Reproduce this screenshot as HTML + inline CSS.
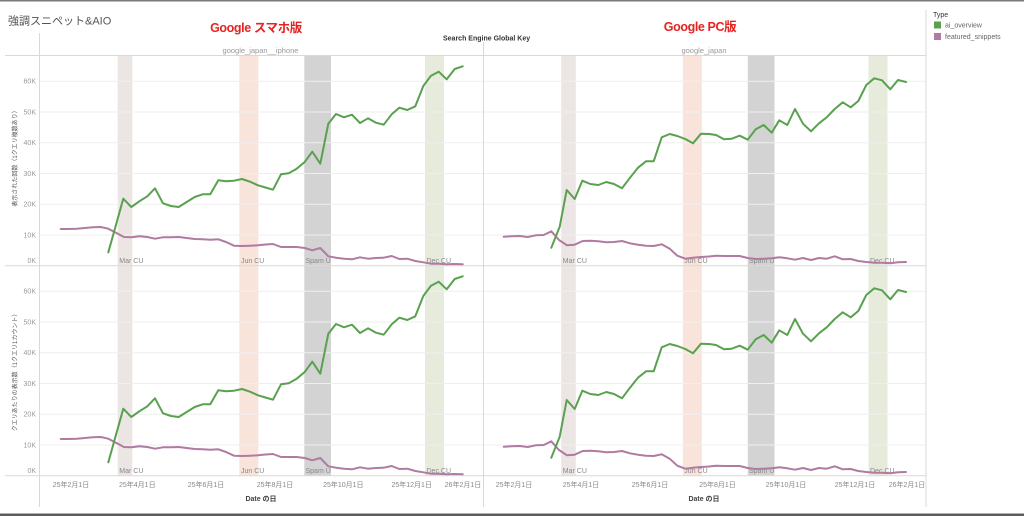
<!DOCTYPE html>
<html><head><meta charset="utf-8"><style>
html,body{margin:0;padding:0;background:#fff;}
svg{display:block;font-family:"Liberation Sans","Noto Sans CJK JP",sans-serif;}
</style></head><body>
<svg width="1024" height="516" viewBox="0 0 1024 516" xmlns="http://www.w3.org/2000/svg">
<rect x="0" y="0" width="1024" height="516" fill="#fff"/>
<rect x="0" y="0" width="1024" height="1.5" fill="#7a7a7a"/>
<rect x="0" y="513.5" width="1024" height="2.5" fill="#5c5c5c"/>

<!-- titles -->
<text x="8" y="24.5" font-size="11" fill="#555">強調スニペット&amp;AIO</text>
<text x="256" y="32" font-size="12.5" font-weight="bold" fill="#e52421" text-anchor="middle" letter-spacing="-0.4">Google スマホ版</text>
<text x="700" y="31" font-size="12.5" font-weight="bold" fill="#e52421" text-anchor="middle" letter-spacing="-0.4">Google PC版</text>
<text x="443" y="40.5" font-size="7" font-weight="bold" fill="#333">Search Engine Global Key</text>
<text x="260.5" y="53" font-size="7.5" fill="#999" text-anchor="middle">google_japan__iphone</text>
<text x="704" y="53" font-size="7.5" fill="#999" text-anchor="middle">google_japan</text>

<!-- legend -->
<text x="933" y="17" font-size="7" fill="#333">Type</text>
<rect x="934" y="21.5" width="7" height="7" fill="#59a14f"/>
<text x="945" y="27.5" font-size="7" fill="#666">ai_overview</text>
<rect x="934" y="33" width="7" height="7" fill="#b07aa1"/>
<text x="945" y="39" font-size="7" fill="#666">featured_snippets</text>

<!-- bands -->
<g id="bands">
<rect x="117.7" y="55.7" width="14.6" height="210" fill="#ebe6e3"/>
<rect x="239.3" y="55.7" width="19" height="210" fill="#f8e4db"/>
<rect x="304.3" y="55.7" width="26.7" height="210" fill="#d3d3d3"/>
<rect x="425" y="55.7" width="19" height="210" fill="#e6ebdc"/>
<rect x="561.2" y="55.7" width="14.6" height="210" fill="#ebe6e3"/>
<rect x="682.8" y="55.7" width="19" height="210" fill="#f8e4db"/>
<rect x="747.8" y="55.7" width="26.7" height="210" fill="#d3d3d3"/>
<rect x="868.5" y="55.7" width="19" height="210" fill="#e6ebdc"/>
</g>
<use href="#bands" transform="translate(0,210)"/>

<!-- gridlines -->
<g id="grid" stroke="#efefef" stroke-width="1">
<line x1="40" x2="926" y1="81.2" y2="81.2"/>
<line x1="40" x2="926" y1="112" y2="112"/>
<line x1="40" x2="926" y1="142.7" y2="142.7"/>
<line x1="40" x2="926" y1="173.5" y2="173.5"/>
<line x1="40" x2="926" y1="204.2" y2="204.2"/>
<line x1="40" x2="926" y1="235" y2="235"/>
</g>
<use href="#grid" transform="translate(0,210)"/>

<!-- frame lines -->
<g stroke="#d9d9d9" stroke-width="1">
<line x1="5" x2="926" y1="55.5" y2="55.5"/>
<line x1="5" x2="926" y1="265.7" y2="265.7"/>
<line x1="5" x2="926" y1="475.7" y2="475.7"/>
<line x1="39.5" x2="39.5" y1="33" y2="507"/>
<line x1="483.5" x2="483.5" y1="42" y2="507"/>
<line x1="926" x2="926" y1="10" y2="507"/>
</g>

<!-- y tick labels -->
<g id="yt" font-size="7" fill="#999" text-anchor="end">
<text x="36" y="83.7">60K</text>
<text x="36" y="114.5">50K</text>
<text x="36" y="145.2">40K</text>
<text x="36" y="176">30K</text>
<text x="36" y="206.7">20K</text>
<text x="36" y="237.5">10K</text>
<text x="36" y="263.2">0K</text>
</g>
<use href="#yt" transform="translate(0,210)"/>

<!-- y axis titles -->
<text transform="translate(17,157) rotate(-90)" font-size="6" fill="#555" text-anchor="middle">表示された回数（1クエリ複数あり）</text>
<text transform="translate(17,371) rotate(-90)" font-size="6" fill="#555" text-anchor="middle">クエリあたりの表示数（1クエリ1カウント）</text>

<!-- band labels -->
<g id="bl" font-size="7" fill="#888">
<text x="119.3" y="263">Mar CU</text>
<text x="241" y="263">Jun CU</text>
<text x="305.5" y="263">Spam U</text>
<text x="426.5" y="263">Dec CU</text>
<text x="562.8" y="263">Mar CU</text>
<text x="684.3" y="263">Jun CU</text>
<text x="749" y="263">Spam U</text>
<text x="870" y="263">Dec CU</text>
</g>
<use href="#bl" transform="translate(0,210)"/>

<!-- series -->
<g id="series" fill="none" stroke-width="2" stroke-linejoin="round" stroke-linecap="round">
<polyline stroke="#b07aa1" points="60.7,229 68.3,229 76.7,228.7 85,228 92.7,227.3 100.7,227 108.3,228.7 116,232.7 124,237 131.7,237.3 139.3,236.3 147.3,237 155,238.7 163,237.3 171,237.3 178.7,237 186.7,238 194.7,239 202.7,239.3 210.3,239.7 218.3,239.3 226,242 234,245.7 242,246 250,245.7 258,245.3 265.5,244.5 273,244 281,247 288.7,247 296.7,247 304.7,248 312.3,250.3 320.3,248 328.3,256.3 336,257.7 344,258.7 352,259.3 360,257.3 368,258.7 376,258 383.7,257.7 391.7,256 399.3,259 407.3,258.7 415.3,261 423.3,262.3 431,263.7 438.7,263.7 446.7,264.3 454.7,264 462.7,264.3"/>
<polyline stroke="#59a14f" points="108.3,252.3 123.3,198.7 131.3,207 139.3,201.3 147.3,196.3 155,188.3 163,203.3 171,206 178.7,207 186.7,202 194.7,197 202.7,194.3 210.3,194.3 218.3,180.3 226,181.3 234,180.7 242,179 250,181.7 258,185.3 265.5,187.5 273,189.7 281,174.3 288.7,173.3 296.7,168.7 304.7,162 312.3,151.7 320.3,163.7 328.3,123.7 336,114 344,117.3 352,114.7 360,123 368,118.3 376,122.7 383.7,124.7 391.7,114.3 399.3,107.7 407.3,110 415.3,106.3 423.3,86 431,75.7 438.7,71.7 446.7,79.3 454.7,69 462.7,66.3"/>
<polyline stroke="#b07aa1" points="503.7,236.7 511.7,236.3 519.7,236 527.7,237 535.7,235.3 543.7,235 551.3,231.3 559,240 567,245.3 574.7,244.7 582.7,241 590.3,240.7 598.3,241.3 606.3,242.3 614,242 622,241 630,243.3 638,244.7 646,245.7 653.7,246 661.7,244.3 669.7,248.7 677.3,255.7 685.3,258.7 693,257.7 701,257 709,256.5 716,255.7 724,256 731.7,256 739.7,256 747.7,258 755.7,259 763.7,258.7 771.7,258.3 779.3,257.3 787.3,258.3 795,259.7 803,258 811,260 819,258 826.7,258.7 834.7,256.3 842.7,259.3 850.7,259 858.3,261 866.3,262 874.3,262.7 882,262.7 890.3,263.3 898,262.3 906,262"/>
<polyline stroke="#59a14f" points="551.3,247.7 559.7,226.7 566.7,190 574.7,199 582.3,180.7 590.3,184 598.3,185 606.3,182 614,184 622,188.3 630,177.7 638,167.7 646,161.3 653.7,161.3 661.7,137.3 669.7,134 677.3,136 685.3,139 693,143.3 701,133.7 709,134 716,135 724,139.3 731.7,138.7 739.7,135.7 747.7,139.7 755.7,129.3 763.7,125 771.7,132.7 779.3,120.3 787.3,125 795,109 803,123.7 811,131.3 819,123.3 826.7,117.3 834.7,109 842.7,102.3 850.7,107.3 858.3,101 866.3,85 874.3,78.3 882,80.3 890.3,89.3 898,80 906,82"/>
</g>
<use href="#series" transform="translate(0,210)"/>

<!-- x tick labels -->
<g font-size="7" fill="#888" text-anchor="middle">
<text x="71" y="487">25年2月1日</text>
<text x="137.3" y="487">25年4月1日</text>
<text x="206" y="487">25年6月1日</text>
<text x="275" y="487">25年8月1日</text>
<text x="343.3" y="487">25年10月1日</text>
<text x="411.7" y="487">25年12月1日</text>
<text x="463" y="487">26年2月1日</text>
<text x="514" y="487">25年2月1日</text>
<text x="581" y="487">25年4月1日</text>
<text x="650" y="487">25年6月1日</text>
<text x="717.5" y="487">25年8月1日</text>
<text x="786" y="487">25年10月1日</text>
<text x="855" y="487">25年12月1日</text>
<text x="907" y="487">26年2月1日</text>
</g>
<text x="261" y="501" font-size="7" font-weight="bold" fill="#444" text-anchor="middle">Date の日</text>
<text x="704" y="501" font-size="7" font-weight="bold" fill="#444" text-anchor="middle">Date の日</text>
</svg>
</body></html>
